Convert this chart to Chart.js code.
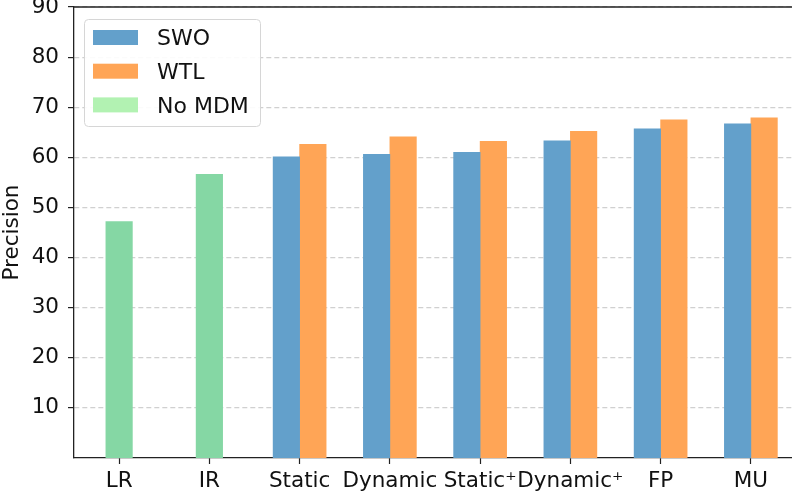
<!DOCTYPE html>
<html>
<head>
<meta charset="utf-8">
<script src="https://cdn.jsdelivr.net/npm/chart.js@4.4.1/dist/chart.umd.min.js"></script>
<style>
  html, body { margin: 0; padding: 0; background: #fff; overflow: hidden; }
  #wrap { width: 796px; height: 499px; position: relative; }
</style>
</head>
<body>
<div id="wrap"><canvas id="grafica"></canvas></div>
<script>
const categorias = ['LR', 'IR', 'Static', 'Dynamic', 'Static\u207A', 'Dynamic\u207A', 'FP', 'MU'];
const swo   = [null, null, 60.1, 60.6, 61.0, 63.3, 65.7, 66.7];
const wtl   = [null, null, 62.6, 64.1, 63.2, 65.2, 67.5, 67.9];
const noMdm = [47.2, 56.6, null, null, null, null, null, null];
const yTicks = [10, 20, 30, 40, 50, 60, 70, 80, 90];

const FONT = 'DejaVu Sans';
const TAM = 21.5;
const colores = { swo: '#63a0cb', wtl: '#ffa556', noMdm: '#85d7a4' };
const coloresLeyenda = ['#63a0cb', '#ffa556', '#b2f2b2'];

// top spine + legend box drawn over the plot
const extras = {
  id: 'extras',
  afterDraw(chart) {
    const ctx = chart.ctx;
    const a = chart.chartArea;
    ctx.save();
    ctx.strokeStyle = '#222';
    ctx.lineWidth = 1.3;
    ctx.beginPath();
    ctx.moveTo(a.left, a.top);
    ctx.lineTo(a.right + 5, a.top);
    ctx.stroke();

    // legend
    const x = 84, y = 19, w = 176, h = 107, r = 4;
    ctx.beginPath();
    ctx.roundRect(x + 0.5, y + 0.5, w, h, r);
    ctx.fillStyle = 'rgba(255,255,255,0.9)';
    ctx.fill();
    ctx.strokeStyle = '#d6d6d6';
    ctx.lineWidth = 1;
    ctx.stroke();
    ctx.font = '22px "' + FONT + '"';
    ctx.textBaseline = 'middle';
    chart.data.datasets.forEach((ds, i) => {
      const cy = 37.5 + i * 33.7;
      ctx.fillStyle = coloresLeyenda[i];
      ctx.fillRect(93, cy - 7.5, 45, 15);
      ctx.fillStyle = '#111';
      ctx.fillText(ds.label, 157, cy + 2);
    });
    ctx.restore();
  }
};

const sinPadding = s => { s.paddingTop = 0; s.paddingBottom = 0; s.paddingLeft = 0; s.paddingRight = 0; };

new Chart(document.getElementById('grafica'), {
  type: 'bar',
  data: {
    labels: categorias,
    datasets: [
      { label: 'SWO', data: swo, backgroundColor: colores.swo },
      { label: 'WTL', data: wtl, backgroundColor: colores.wtl },
      { label: 'No MDM', data: noMdm, backgroundColor: colores.noMdm }
    ]
  },
  options: {
    responsive: true,
    maintainAspectRatio: false,
    animation: false,
    skipNull: true,
    barThickness: 26.5,
    layout: { padding: { top: 7, right: 0, left: 0, bottom: 0 } },
    plugins: { legend: { display: false }, tooltip: { enabled: false } },
    scales: {
      x: {
        offset: true,
        afterFit: s => { s.height = 41; sinPadding(s); },
        grid: { display: true, drawOnChartArea: false, offset: false, tickLength: 6, tickColor: '#222', tickWidth: 1.2 },
        border: { color: '#222', width: 1.3 },
        ticks: { color: '#111', font: { family: FONT, size: TAM }, padding: 5, maxRotation: 0, autoSkip: false }
      },
      y: {
        min: 0,
        max: 90,
        afterFit: s => { s.width = 74; sinPadding(s); },
        afterBuildTicks: s => { s.ticks = yTicks.map(v => ({ value: v })); },
        grid: { color: '#d0d0d0', lineWidth: 1.2, tickLength: 6, tickColor: '#222', tickWidth: 1.2 },
        border: { color: '#222', width: 1.3, dash: [5, 3] },
        ticks: { color: '#111', font: { family: FONT, size: TAM }, padding: 9 },
        title: { display: true, text: 'Precision', color: '#111', font: { family: FONT, size: TAM }, padding: { top: 0, bottom: 0 } }
      }
    }
  },
  plugins: [extras]
});
</script>
</body>
</html>
